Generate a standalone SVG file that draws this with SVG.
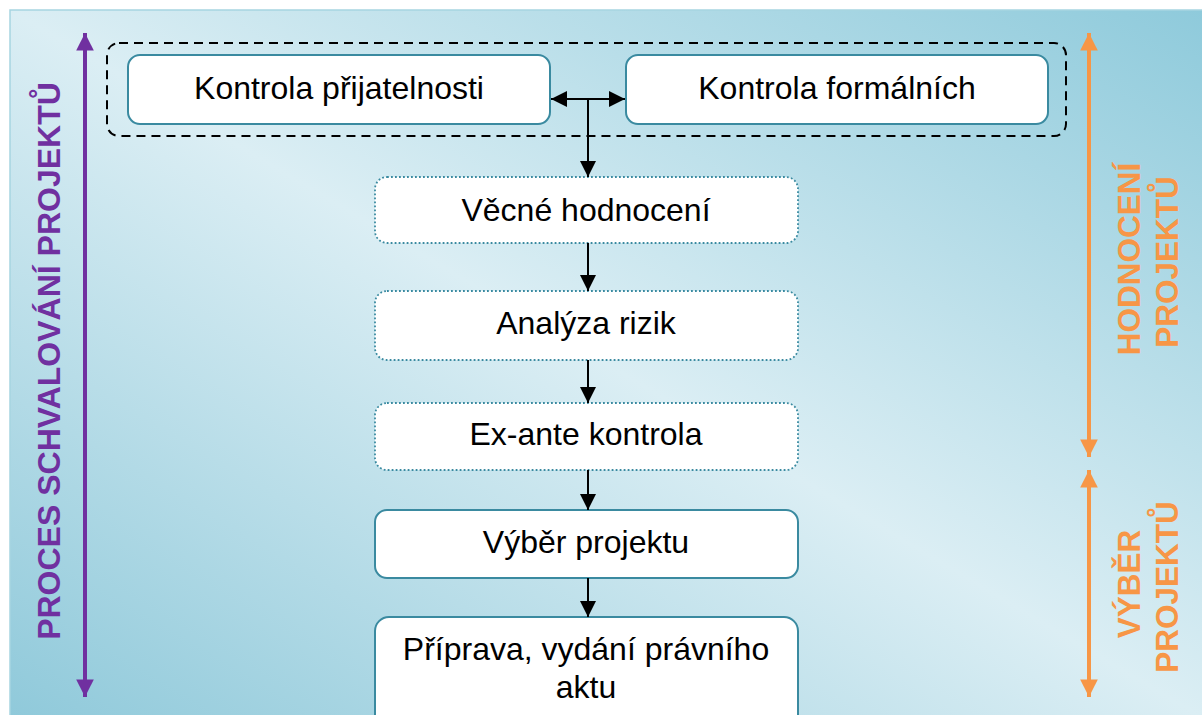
<svg xmlns="http://www.w3.org/2000/svg" width="1202" height="715" viewBox="0 0 1202 715">
<defs>
<linearGradient id="bg" x1="1" y1="0" x2="0" y2="1">
<stop offset="0" stop-color="#8ecadb"/>
<stop offset="0.5" stop-color="#dbeef4"/>
<stop offset="1" stop-color="#8fc9da"/>
</linearGradient>
<marker id="ah" viewBox="0 0 10 10" refX="10" refY="5" markerWidth="8" markerHeight="8" orient="auto-start-reverse" markerUnits="strokeWidth">
<path d="M0,0 L10,5 L0,10 Z" fill="#000"/>
</marker>
<marker id="ap" viewBox="0 0 10 10" refX="10" refY="5" markerWidth="4.4" markerHeight="4.4" orient="auto-start-reverse" markerUnits="strokeWidth">
<path d="M0,0 L10,5 L0,10 Z" fill="#7030a0"/>
</marker>
<marker id="ao" viewBox="0 0 10 10" refX="10" refY="5" markerWidth="4.4" markerHeight="4.4" orient="auto-start-reverse" markerUnits="strokeWidth">
<path d="M0,0 L10,5 L0,10 Z" fill="#f79646"/>
</marker>
</defs>
<style>
.box{fill:#fff;stroke:#3a8aa0;stroke-width:2}
.dot{fill:#fff;stroke:#3a8aa0;stroke-width:1.8;stroke-dasharray:1.8 2.2}
.t{font-family:"Liberation Sans",Arial,sans-serif;font-size:32px;fill:#000;text-anchor:middle}
.v{font-family:"Liberation Sans",Arial,sans-serif;font-size:31.5px;font-weight:bold;text-anchor:middle}
.con{stroke:#000;stroke-width:2;fill:none}
</style>
<rect x="10" y="10" width="1200" height="712" fill="url(#bg)" stroke="#a6d5e1" stroke-width="1.5"/>

<g id="side-labels">
<line x1="85" y1="33" x2="85" y2="697" stroke="#7030a0" stroke-width="4" marker-start="url(#ap)" marker-end="url(#ap)"/>
<text class="v" fill="#7030a0" style="font-size:32px" transform="translate(60,361) rotate(-90)">PROCES SCHVALOVÁNÍ PROJEKTŮ</text>
<line x1="1089" y1="33" x2="1089" y2="457" stroke="#f79646" stroke-width="4" marker-start="url(#ao)" marker-end="url(#ao)"/>
<line x1="1089" y1="470" x2="1089" y2="697" stroke="#f79646" stroke-width="4" marker-start="url(#ao)" marker-end="url(#ao)"/>
<text class="v" fill="#f79646" transform="translate(1140,259) rotate(-90)">HODNOCENÍ</text>
<text class="v" fill="#f79646" transform="translate(1178,262) rotate(-90)">PROJEKTŮ</text>
<text class="v" fill="#f79646" transform="translate(1140,584) rotate(-90)">VÝBĚR</text>
<text class="v" fill="#f79646" transform="translate(1178,587) rotate(-90)">PROJEKTŮ</text>
</g>

<g id="group-kontrola">
<rect x="107" y="43" width="959" height="93" rx="12" fill="none" stroke="#000" stroke-width="2" stroke-dasharray="9 6"/>
</g>

<g id="node-prijatelnost">
<rect class="box" x="128" y="55" width="422" height="69" rx="12"/>
<text class="t" x="339" y="99">Kontrola přijatelnosti</text>
</g>
<g id="node-formalni">
<rect class="box" x="626" y="55" width="422" height="69" rx="12"/>
<text class="t" x="837" y="99">Kontrola formálních</text>
</g>
<g id="node-vecne">
<rect class="dot" x="375" y="177" width="423" height="66" rx="12"/>
<text class="t" x="586" y="221">Věcné hodnocení</text>
</g>
<g id="node-rizika">
<rect class="dot" x="375" y="291" width="423" height="69" rx="12"/>
<text class="t" x="586" y="334">Analýza rizik</text>
</g>
<g id="node-exante">
<rect class="dot" x="375" y="403" width="423" height="67" rx="12"/>
<text class="t" x="586" y="445">Ex-ante kontrola</text>
</g>
<g id="node-vyber">
<rect class="box" x="375" y="510" width="423" height="68" rx="12"/>
<text class="t" x="586" y="553">Výběr projektu</text>
</g>
<g id="node-priprava">
<rect class="box" x="375" y="617" width="423" height="120" rx="14"/>
<text class="t" x="586" y="660">Příprava, vydání právního</text>
<text class="t" x="586" y="698">aktu</text>
</g>

<g id="connectors">
<line class="con" x1="551" y1="99" x2="625" y2="99" marker-start="url(#ah)" marker-end="url(#ah)"/>
<line class="con" x1="588" y1="99" x2="588" y2="177" marker-end="url(#ah)"/>
<line class="con" x1="588" y1="243" x2="588" y2="291" marker-end="url(#ah)"/>
<line class="con" x1="588" y1="360" x2="588" y2="403" marker-end="url(#ah)"/>
<line class="con" x1="588" y1="470" x2="588" y2="510" marker-end="url(#ah)"/>
<line class="con" x1="588" y1="578" x2="588" y2="617" marker-end="url(#ah)"/>
</g>
</svg>
